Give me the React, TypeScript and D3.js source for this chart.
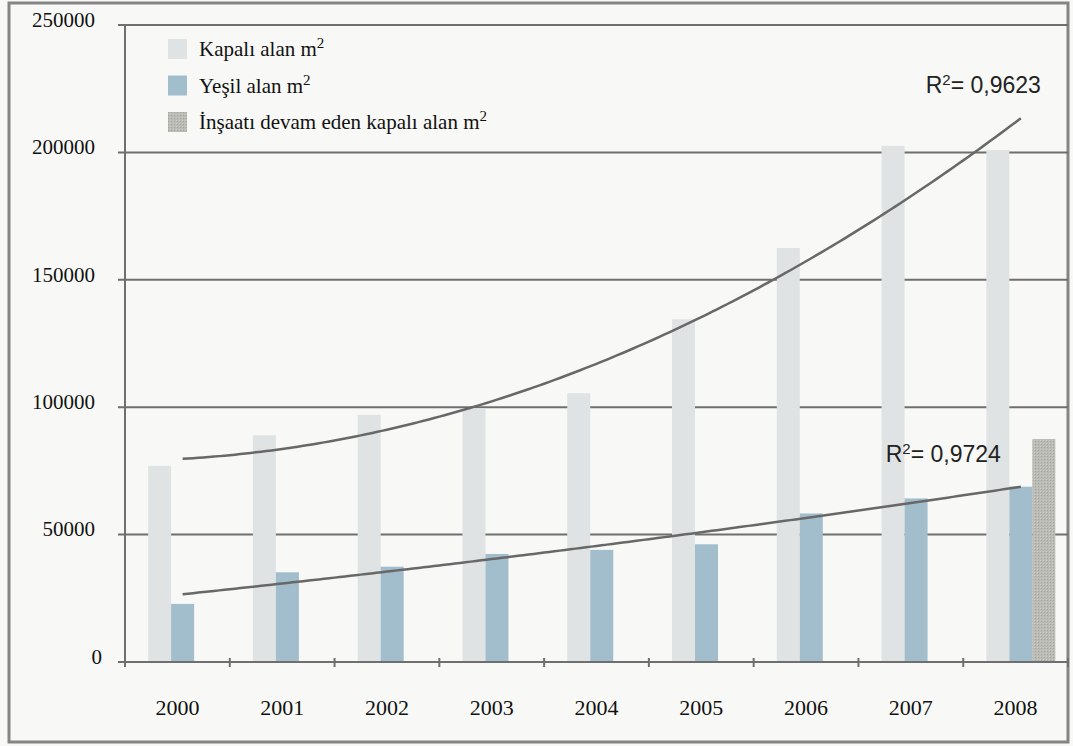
import * as d3 from "d3";

const years = ["2000", "2001", "2002", "2003", "2004", "2005", "2006", "2007", "2008"];
const kapaliAlan = [77000, 89000, 97000, 99500, 105500, 134500, 162500, 202600, 200900];
const yesilAlan = [22800, 35200, 37400, 42400, 44000, 46200, 58300, 64200, 68800];
const insaatDevam = [null, null, null, null, null, null, null, null, 87500];
const yTicks = [0, 50000, 100000, 150000, 200000, 250000];
const legendLabels = ["Kapalı alan m", "Yeşil alan m", "İnşaatı devam eden kapalı alan m"];
const r2Values = ["0,9623", "0,9724"];

const width = 1073;
const height = 746;
const plotLeft = 125;
const plotRight = 1068;
const plotTop = 25;
const plotBottom = 662;
const barW = 23;

const colors = {
  kapali: "#dfe3e3",
  yesil: "#a2bdcb",
  insaat: "#bbbbb5",
  grid: "#6f6f6f",
  trend: "#686868",
  bg: "#f8f9f6",
  text: "#111",
};

const serif = "'Liberation Serif', 'Times New Roman', serif";
const sans = "'Liberation Sans', Arial, sans-serif";

// least squares, 2nd order polynomial (like excel's trendline)
const polyFit = (values) => {
  let s = [0, 0, 0, 0, 0];
  let r = [0, 0, 0];
  values.forEach((v, t) => {
    for (let k = 0; k < 5; k++) s[k] += Math.pow(t, k);
    for (let k = 0; k < 3; k++) r[k] += v * Math.pow(t, k);
  });
  const m = [
    [s[0], s[1], s[2], r[0]],
    [s[1], s[2], s[3], r[1]],
    [s[2], s[3], s[4], r[2]],
  ];
  for (let i = 0; i < 3; i++) {
    for (let j = i + 1; j < 3; j++) {
      const f = m[j][i] / m[i][i];
      for (let k = i; k < 4; k++) m[j][k] -= f * m[i][k];
    }
  }
  const c = [0, 0, 0];
  for (let i = 2; i >= 0; i--) {
    let sum = m[i][3];
    for (let k = i + 1; k < 3; k++) sum -= m[i][k] * c[k];
    c[i] = sum / m[i][i];
  }
  return (t) => c[0] + c[1] * t + c[2] * t * t;
};

export default function App() {
  const x = d3.scaleBand().domain(years).range([plotLeft, plotRight]).paddingInner(0);
  const y = d3.scaleLinear().domain([0, 250000]).range([plotBottom, plotTop]);
  const groupStart = (yr) => x(yr) + x.step() * 0.55 - barW * 1.5;
  const center = (i) => groupStart(years[i]) + barW * 1.5;

  const last = years.length - 1;
  const tScale = d3.scaleLinear().domain([0, last]).range([center(0), center(last)]);
  const samples = d3.range(0, last + 0.001, 0.05);

  const trends = [kapaliAlan, yesilAlan].map((vals) => {
    const f = polyFit(vals);
    const path = d3
      .line()
      .x((t) => tScale(t))
      .y((t) => y(f(t)))(samples);
    return { path, endX: tScale(last), endY: y(f(last)) };
  });

  const legendColors = [colors.kapali, colors.yesil, "url(#dots)"];

  return (
    <svg width={width} height={height} style={{ position: "absolute", left: 0, top: 0 }}>
      <defs>
        <pattern id="dots" width="3" height="3" patternUnits="userSpaceOnUse">
          <rect width="3" height="3" fill={colors.insaat} />
          <rect width="1" height="1" fill="#a3a39d" />
          <rect x="2" y="2" width="1" height="1" fill="#cdcdc8" />
        </pattern>
      </defs>
      <rect width={width} height={height} fill={colors.bg} />
      <rect x={9} y={3} width={1059} height={739} fill="none" stroke="#858585" strokeWidth="3" />

      {/* gridlines + y labels */}
      {yTicks.map((t) => (
        <g key={t}>
          {t > 0 && (
            <line x1={plotLeft - 7} x2={plotRight} y1={y(t)} y2={y(t)} stroke={colors.grid} strokeWidth="2" />
          )}
          <text
            x={t === 0 ? 102 : 95}
            y={y(t) - 3}
            textAnchor="end"
            dominantBaseline="middle"
            fontFamily={serif}
            fontSize="21"
            fill={colors.text}
          >
            {t}
          </text>
        </g>
      ))}

      {/* bars */}
      {years.map((yr, i) => {
        const gx = groupStart(yr);
        return (
          <g key={yr}>
            <rect x={gx} y={y(kapaliAlan[i])} width={barW} height={plotBottom - y(kapaliAlan[i])} fill={colors.kapali} />
            <rect x={gx + barW} y={y(yesilAlan[i])} width={barW} height={plotBottom - y(yesilAlan[i])} fill={colors.yesil} />
            {insaatDevam[i] != null && (
              <rect
                x={gx + barW * 2}
                y={y(insaatDevam[i])}
                width={barW}
                height={plotBottom - y(insaatDevam[i])}
                fill="url(#dots)"
              />
            )}
          </g>
        );
      })}

      {/* axes */}
      <line x1={plotLeft} x2={plotLeft} y1={plotTop} y2={plotBottom} stroke={colors.grid} strokeWidth="2" />
      <line x1={plotLeft - 7} x2={plotRight} y1={plotBottom} y2={plotBottom} stroke={colors.grid} strokeWidth="2" />
      {years.concat(["end"]).map((yr, i) => {
        const tx = plotLeft + i * x.step();
        return <line key={yr} x1={tx} x2={tx} y1={plotBottom - 4} y2={plotBottom + 5} stroke={colors.grid} strokeWidth="2" />;
      })}
      {years.map((yr) => (
        <text
          key={yr}
          x={x(yr) + x.step() / 2}
          y={715}
          textAnchor="middle"
          fontFamily={serif}
          fontSize="22"
          fill={colors.text}
        >
          {yr}
        </text>
      ))}

      {/* trend lines */}
      {trends.map((tr, i) => (
        <path key={i} d={tr.path} fill="none" stroke={colors.trend} strokeWidth="2.5" />
      ))}
      {trends.map((tr, i) => (
        <text
          key={i}
          x={i === 0 ? tr.endX + 20 : tr.endX - 20}
          y={tr.endY - 25}
          textAnchor="end"
          fontFamily={sans}
          fontSize="23"
          fill="#222"
        >
          R<tspan dy={-8} fontSize="15">2</tspan>
          <tspan dy={8}>= {r2Values[i]}</tspan>
        </text>
      ))}

      {/* legend */}
      {legendLabels.map((lab, i) => (
        <g key={lab} transform={`translate(168, ${39 + i * 36.5})`}>
          <rect width="19" height="20" fill={legendColors[i]} />
          <text x={31} y={17} fontFamily={serif} fontSize="21" fill={colors.text}>
            {lab}
            <tspan dy={-8} fontSize="15">2</tspan>
          </text>
        </g>
      ))}
    </svg>
  );
}
